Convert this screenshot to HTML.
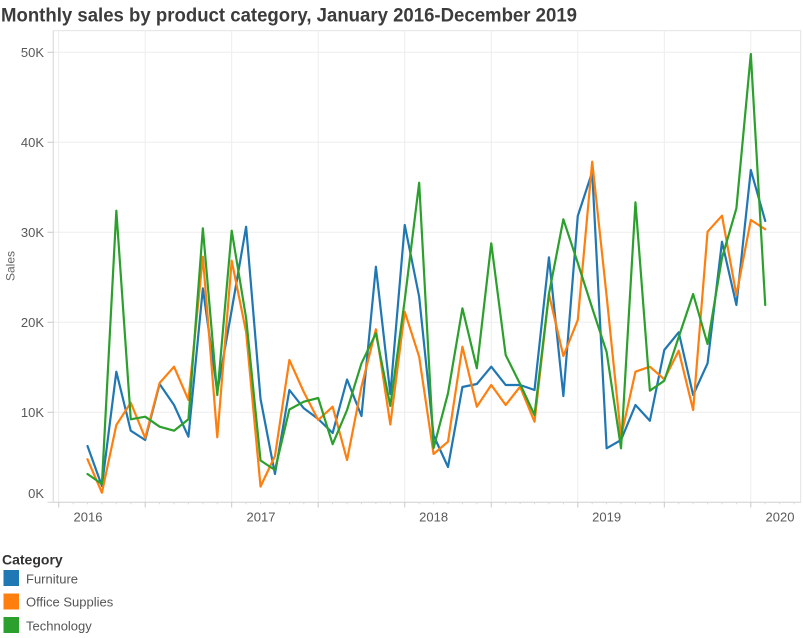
<!DOCTYPE html>
<html>
<head>
<meta charset="utf-8">
<style>
html,body{margin:0;padding:0;background:#fff;}
body{width:803px;height:638px;overflow:hidden;}
svg{display:block;}
text{font-family:"Liberation Sans",Arial,sans-serif;}
</style>
</head>
<body>
<svg width="803" height="638" viewBox="0 0 803 638" xmlns="http://www.w3.org/2000/svg">
<text x="1" y="21.5" font-size="19" font-weight="bold" fill="#3c3c3c" textLength="576" lengthAdjust="spacingAndGlyphs">Monthly sales by product category, January 2016-December 2019</text>
<rect x="53.3" y="30.7" width="747.4" height="471.6" fill="none" stroke="#e3e3e3" stroke-width="1"/>
<path d="M53.3 52.3H800.7M53.3 142.3H800.7M53.3 232.3H800.7M53.3 322.3H800.7M53.3 412.3H800.7M58.7 30.7V502.3M145.2 30.7V502.3M231.7 30.7V502.3M318.2 30.7V502.3M404.7 30.7V502.3M491.3 30.7V502.3M577.8 30.7V502.3M664.3 30.7V502.3M750.8 30.7V502.3" stroke="#ededed" stroke-width="1" fill="none"/>
<line x1="47.5" y1="502.3" x2="800.7" y2="502.3" stroke="#d6d6d6" stroke-width="1"/>
<line x1="53.3" y1="30.7" x2="53.3" y2="502.3" stroke="#dcdcdc" stroke-width="1"/>
<path d="M47.5 52.3H53.3M47.5 142.3H53.3M47.5 232.3H53.3M47.5 322.3H53.3M47.5 412.3H53.3M58.7 502.3V507.5M145.2 502.3V507.5M231.7 502.3V507.5M318.2 502.3V507.5M404.7 502.3V507.5M491.3 502.3V507.5M577.8 502.3V507.5M664.3 502.3V507.5M750.8 502.3V507.5" stroke="#c8c8c8" stroke-width="1" fill="none"/>
<path d="M73.1 502.3v2M87.5 502.3v2M101.9 502.3v2M116.3 502.3v2M130.8 502.3v2M159.6 502.3v2M174 502.3v2M188.4 502.3v2M202.9 502.3v2M217.3 502.3v2M246.1 502.3v2M260.5 502.3v2M275 502.3v2M289.4 502.3v2M303.8 502.3v2M332.6 502.3v2M347.1 502.3v2M361.5 502.3v2M375.9 502.3v2M390.3 502.3v2M419.2 502.3v2M433.6 502.3v2M448 502.3v2M462.4 502.3v2M476.8 502.3v2M505.7 502.3v2M520.1 502.3v2M534.5 502.3v2M548.9 502.3v2M563.4 502.3v2M592.2 502.3v2M606.6 502.3v2M621 502.3v2M635.5 502.3v2M649.9 502.3v2M678.7 502.3v2M693.1 502.3v2M707.6 502.3v2M722 502.3v2M736.4 502.3v2M765.2 502.3v2M779.7 502.3v2M794.1 502.3v2" stroke="#dadada" stroke-width="1" fill="none"/>
<g font-size="13" fill="#595959" text-anchor="end">
<text x="44" y="56.8">50K</text>
<text x="44" y="146.8">40K</text>
<text x="44" y="236.8">30K</text>
<text x="44" y="326.8">20K</text>
<text x="44" y="416.8">10K</text>
<text x="44" y="497.8">0K</text>
</g>
<text x="0" y="0" font-size="12" fill="#666" text-anchor="middle" transform="translate(14.5,266) rotate(-90)">Sales</text>
<g font-size="13" fill="#595959" text-anchor="middle">
<text x="88" y="521.5">2016</text>
<text x="261" y="521.5">2017</text>
<text x="433.6" y="521.5">2018</text>
<text x="606.6" y="521.5">2019</text>
<text x="780" y="521.5">2020</text>
</g>
<g fill="none" stroke-width="2.2" stroke-linejoin="round" stroke-linecap="round">
<polyline stroke="#1f77b4" points="87.5,446 101.92,486 116.34,371.7 130.76,430.7 145.18,440 159.6,384 174.02,405 188.44,436.7 202.86,288.3 217.28,391.7 231.7,310 246.12,226.7 260.54,399 274.96,474 289.38,390 303.8,408.3 318.22,419 332.64,433 347.06,379.5 361.48,416 375.9,266.7 390.32,394 404.74,225 419.16,296.7 433.58,435.5 448,467 462.42,387 476.84,384 491.26,366.7 505.68,385 520.1,385 534.52,390 548.94,257.3 563.36,396 577.78,216 592.2,172 606.62,448.3 621.04,440 635.46,405 649.88,420.7 664.3,350 678.72,332.3 693.14,395 707.56,363.3 721.98,241.7 736.4,305 750.82,170 765.24,221"/>
<polyline stroke="#ff7f0e" points="87.5,459.3 101.92,492.7 116.34,425 130.76,402.7 145.18,438 159.6,383 174.02,366.7 188.44,400 202.86,256.7 217.28,437.3 231.7,260.7 246.12,332 260.54,486.5 274.96,456 289.38,360 303.8,392 318.22,420 332.64,406.7 347.06,460 361.48,386.7 375.9,329.3 390.32,424.5 404.74,311.7 419.16,356.7 433.58,454 448,441.7 462.42,346.7 476.84,406.7 491.26,385 505.68,405 520.1,386.7 534.52,421.7 548.94,294 563.36,356 577.78,320 592.2,161.7 606.62,296 621.04,436.7 635.46,371.7 649.88,366.7 664.3,379.3 678.72,350.7 693.14,410 707.56,231.7 721.98,215.7 736.4,295 750.82,220 765.24,229.3"/>
<polyline stroke="#2ca02c" points="87.5,474 101.92,484 116.34,210.7 130.76,419.3 145.18,416.7 159.6,426.7 174.02,430.7 188.44,419.3 202.86,228.3 217.28,395 231.7,230.7 246.12,318 260.54,460.5 274.96,470 289.38,409.5 303.8,401.7 318.22,398 332.64,444.2 347.06,410 361.48,363.3 375.9,333.3 390.32,406 404.74,300 419.16,182.7 433.58,448 448,393.3 462.42,308.3 476.84,368.3 491.26,243.3 505.68,355 520.1,384 534.52,415 548.94,294 563.36,219.3 577.78,263 592.2,308 606.62,352 621.04,448.3 635.46,202.3 649.88,390.7 664.3,380.7 678.72,337 693.14,294 707.56,344 721.98,258 736.4,208.3 750.82,54 765.24,305"/>
</g>
<text x="2" y="564.5" font-size="14" font-weight="bold" fill="#333">Category</text>
<rect x="3.5" y="570" width="15.5" height="16" fill="#1f77b4"/>
<rect x="3.5" y="593.5" width="15.5" height="16" fill="#ff7f0e"/>
<rect x="3.5" y="617" width="15.5" height="16" fill="#2ca02c"/>
<g font-size="13" fill="#555">
<text x="26" y="583.3">Furniture</text>
<text x="26" y="606.5">Office Supplies</text>
<text x="26" y="630.3">Technology</text>
</g>
</svg>
</body>
</html>
